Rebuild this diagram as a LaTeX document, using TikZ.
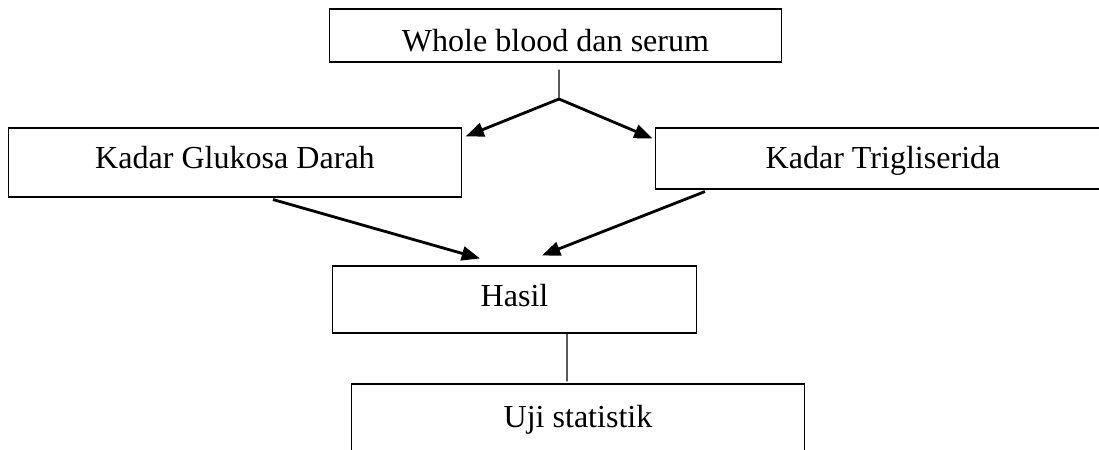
\documentclass[tikz,border=0pt]{standalone}
\usepackage{fontspec}
\setmainfont{Liberation Serif}
\usetikzlibrary{arrows.meta}

\begin{document}
\begin{tikzpicture}[x=0.025cm, y=-0.025cm,
	box/.style={draw, line width=0.75pt, inner sep=0pt,
		text height=15pt, text depth=0pt,
		font=\fontsize{22.8}{27}\selectfont},
	arr/.style={line width=2pt, -{Triangle[length=13pt, width=10pt]}},
	stem/.style={line width=0.75pt}]

% frame %{{{2

	\useasboundingbox (0,0) rectangle (1099,449);
	\clip (0,0) rectangle (1099,449);

% boxes %{{{2

	\node[box, minimum width=11.3cm, minimum height=1.325cm, text height=22.8pt]
	(sampel) at (555.5,35.5) {Whole blood dan serum};

	\node[box, minimum width=11.3cm, minimum height=1.725cm, text depth=7pt]
	(glukosa) at (235,162.5) {Kadar Glukosa Darah};

	\node[box, minimum width=11.35cm, minimum height=1.525cm, text depth=1.4pt]
	(trigli) at (883,158.5) {Kadar Trigliserida};

	\node[box, minimum width=9.075cm, minimum height=1.675cm, text depth=5.7pt]
	(hasil) at (514.5,299.5) {Hasil};

	\node[box, minimum width=11.3cm, minimum height=1.825cm, text depth=5.7pt]
	(uji) at (578,420.5) {Uji statistik};

% split %{{{2

	\coordinate (stemtop) at ([shift={(3.5,7)}]sampel.south);
	\coordinate (split) at (559,99);

	\draw[stem] (stemtop) -- (split);

% arrows %{{{2

	\draw[arr] (split) -- ([shift={(4,9)}]glukosa.north east);
	\draw[arr] (split) -- ([shift={(-3,11)}]trigli.north west);

	\draw[arr] ([shift={(38,2)}]glukosa.south) -- ([shift={(-34.5,-7)}]hasil.north);
	\draw[arr] ([shift={(-178,2)}]trigli.south) -- ([shift={(27.5,-10)}]hasil.north);

	\draw[stem] ([shift={(52.5,0)}]hasil.south) -- ([shift={(-11,-2)}]uji.north);

% closing %{{{2

\end{tikzpicture}
\end{document}
